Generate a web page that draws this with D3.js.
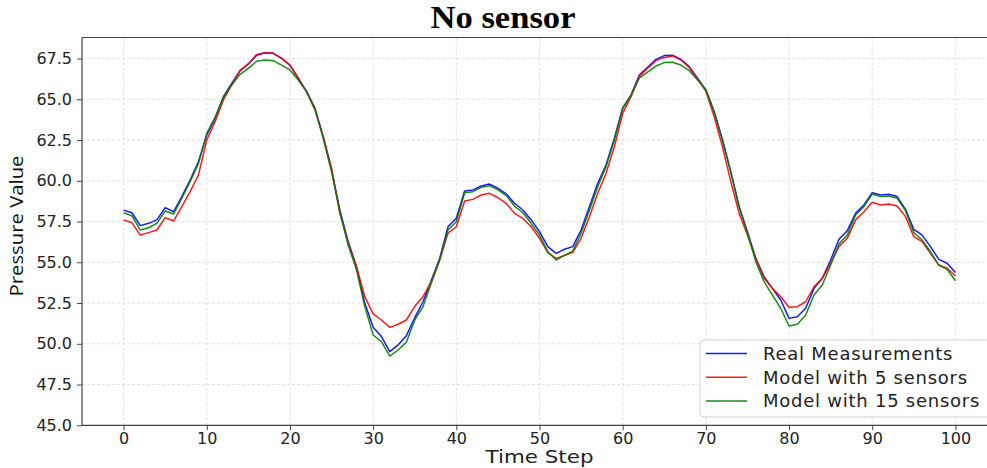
<!DOCTYPE html>
<html>
<head>
<meta charset="utf-8">
<script src="https://cdn.jsdelivr.net/npm/d3@7"></script>
<style>
  body { margin: 0; background: #ffffff; }
  svg { display: block; }
</style>
</head>
<body>
<div id="viz-container"></div>
<script>
let w = 987;
let h = 468;

///////////////////////////////////////////////////////////////////////////
// DATA (time steps 0..100)

let realMeasurements = [
  58.2, 58.04, 57.25, 57.39, 57.6, 58.35, 58.1, 59.03, 60.05, 61.17,
  62.81, 63.83, 65.16, 65.98, 66.76, 67.17, 67.7, 67.86, 67.82, 67.51,
  67.1, 66.29, 65.47, 64.45, 62.71, 60.66, 58.2, 56.27, 54.73, 52.48,
  51.01, 50.44, 49.52, 49.93, 50.5, 51.6, 52.58, 53.9, 55.24, 57.18,
  57.7, 59.37, 59.44, 59.68, 59.8, 59.54, 59.19, 58.62, 58.21, 57.6,
  56.88, 55.96, 55.55, 55.8, 55.96, 56.98, 58.41, 59.85, 60.97, 62.61,
  64.45, 65.26, 66.49, 66.96, 67.45, 67.68, 67.7, 67.45, 67.0, 66.29,
  65.57, 64.24, 62.5, 60.56, 58.41, 56.88, 55.24, 54.12, 53.4, 52.69,
  51.56, 51.66, 52.18, 53.4, 54.02, 55.14, 56.41, 56.94, 58.0, 58.52,
  59.27, 59.13, 59.17, 59.03, 58.25, 57.02, 56.67, 55.96, 55.18, 54.94,
  54.37
];

let model5 = [
  57.6, 57.43, 56.67, 56.82, 56.98, 57.74, 57.53, 58.41, 59.33, 60.36,
  62.5, 63.63, 64.96, 65.88, 66.76, 67.17, 67.75, 67.86, 67.82, 67.51,
  67.1, 66.29, 65.47, 64.34, 62.71, 60.77, 58.0, 56.17, 54.73, 52.89,
  51.83, 51.46, 51.01, 51.2, 51.46, 52.3, 52.89, 53.81, 55.14, 56.78,
  57.18, 58.76, 58.86, 59.13, 59.23, 58.96, 58.62, 58.0, 57.7, 57.18,
  56.47, 55.59, 55.24, 55.42, 55.61, 56.47, 57.8, 59.23, 60.46, 62.09,
  64.14, 65.16, 66.39, 66.9, 67.37, 67.57, 67.66, 67.41, 66.95, 66.25,
  65.5, 63.93, 62.09, 59.95, 58.0, 56.67, 55.24, 54.02, 53.4, 52.89,
  52.24, 52.28, 52.58, 53.5, 54.02, 54.94, 55.96, 56.47, 57.6, 58.1,
  58.68, 58.52, 58.58, 58.45, 57.8, 56.57, 56.27, 55.55, 54.83, 54.63,
  54.16
];

let model15 = [
  58.04, 57.86, 56.98, 57.12, 57.39, 58.15, 57.96, 58.93, 59.95, 61.07,
  62.91, 63.9, 65.12, 65.88, 66.53, 66.9, 67.33, 67.41, 67.37, 67.1,
  66.8, 66.18, 65.47, 64.45, 62.6, 60.56, 58.1, 56.06, 54.53, 52.28,
  50.54, 50.13, 49.25, 49.62, 50.1, 51.46, 52.28, 53.75, 55.14, 56.98,
  57.49, 59.27, 59.33, 59.6, 59.7, 59.44, 59.09, 58.45, 58.04, 57.39,
  56.67, 55.65, 55.14, 55.42, 55.69, 56.78, 58.2, 59.64, 60.87, 62.5,
  64.45, 65.26, 66.29, 66.66, 67.04, 67.25, 67.27, 67.1, 66.76, 66.18,
  65.6, 64.24, 62.5, 60.5, 58.41, 56.8, 55.04, 53.81, 52.99, 52.18,
  51.09, 51.2, 51.77, 52.99, 53.61, 54.83, 56.12, 56.67, 57.9, 58.41,
  59.19, 59.03, 59.07, 58.93, 58.17, 56.82, 56.37, 55.65, 54.83, 54.57,
  53.87
];

let seriesNames = ["Real Measurements", "Model with 5 sensors", "Model with 15 sensors"];
let seriesColors = ["#0000ff", "#ff0000", "#008000"];

let xTicks = [0, 10, 20, 30, 40, 50, 60, 70, 80, 90, 100];
let yTicks = [45.0, 47.5, 50.0, 52.5, 55.0, 57.5, 60.0, 62.5, 65.0, 67.5];

///////////////////////////////////////////////////////////////////////////
// SVG + scales

let viz = d3.select("#viz-container")
              .append("svg")
                .attr("width", w)
                .attr("height", h)
;

let plotLeft = 82;
let plotRight = 997;   // the figure is cut off on the right side
let plotTop = 37.5;
let plotBottom = 425.3;

let xScale = d3.scaleLinear().domain([-5, 105]).range([plotLeft, plotRight]);
let yScale = d3.scaleLinear().domain([45, 68.79]).range([plotBottom, plotTop]);

///////////////////////////////////////////////////////////////////////////
// GRID

let grid = viz.append("g").attr("class", "grid");

grid.selectAll(".vgrid").data(xTicks)
    .enter()
      .append("line")
      .attr("x1", d => xScale(d))
      .attr("x2", d => xScale(d))
      .attr("y1", plotTop)
      .attr("y2", plotBottom)
      .attr("stroke", "#d9d9d9")
      .attr("stroke-width", 0.8)
      .attr("stroke-dasharray", "3,2")
;

grid.selectAll(".hgrid").data(yTicks)
    .enter()
      .append("line")
      .attr("x1", plotLeft)
      .attr("x2", plotRight)
      .attr("y1", d => yScale(d))
      .attr("y2", d => yScale(d))
      .attr("stroke", "#d9d9d9")
      .attr("stroke-width", 0.8)
      .attr("stroke-dasharray", "3,2")
;

///////////////////////////////////////////////////////////////////////////
// LINES

let allSeries = [realMeasurements, model5, model15];

let lineMaker = d3.line()
                  .x((d, i) => xScale(i))
                  .y(d => yScale(d))
;

viz.append("g").attr("class", "lines")
    .selectAll("path").data(allSeries)
    .enter()
      .append("path")
      .attr("d", lineMaker)
      .attr("fill", "none")
      .attr("stroke", (d, i) => seriesColors[i])
      .attr("stroke-width", 1.5)
      .attr("stroke-opacity", 0.9)
      .attr("stroke-linejoin", "round")
;

///////////////////////////////////////////////////////////////////////////
// AXES

let xAxis = d3.axisBottom(xScale).tickValues(xTicks).tickSize(5).tickPadding(2.5).tickFormat(d3.format("d"));
let yAxis = d3.axisLeft(yScale).tickValues(yTicks).tickSize(5).tickPadding(5).tickFormat(d3.format(".1f"));

let xAxisGroup = viz.append("g")
    .attr("transform", "translate(0," + plotBottom + ")")
    .call(xAxis);

let yAxisGroup = viz.append("g")
    .attr("transform", "translate(" + plotLeft + ",0)")
    .call(yAxis);

[xAxisGroup, yAxisGroup].forEach(function(g){
  g.select(".domain").remove();
  g.selectAll("line").attr("stroke", "#444").attr("stroke-width", 1);
  g.selectAll("text")
    .attr("fill", "#222")
    .style("font-family", "DejaVu Sans, sans-serif")
    .style("font-size", "16px");
});

// spines: left, top, bottom (right one is outside the picture)
viz.append("line").attr("x1", plotLeft).attr("x2", plotLeft).attr("y1", plotTop).attr("y2", plotBottom)
    .attr("stroke", "#444").attr("stroke-width", 1.2);
viz.append("line").attr("x1", plotLeft).attr("x2", plotRight).attr("y1", plotTop).attr("y2", plotTop)
    .attr("stroke", "#444").attr("stroke-width", 1.2);
viz.append("line").attr("x1", plotLeft).attr("x2", plotRight).attr("y1", plotBottom).attr("y2", plotBottom)
    .attr("stroke", "#444").attr("stroke-width", 1.2);

///////////////////////////////////////////////////////////////////////////
// TITLE + LABELS

viz.append("text")
    .attr("x", 503)
    .attr("y", 28)
    .attr("text-anchor", "middle")
    .style("font-family", "Liberation Serif, serif")
    .style("font-weight", "bold")
    .style("font-size", "31px")
    .attr("textLength", 145)
    .attr("lengthAdjust", "spacingAndGlyphs")
    .text("No sensor");

viz.append("text")
    .attr("x", xScale(50))
    .attr("y", 463)
    .attr("text-anchor", "middle")
    .attr("fill", "#222")
    .style("font-family", "DejaVu Sans, sans-serif")
    .style("font-size", "17px")
    .attr("textLength", 108)
    .attr("lengthAdjust", "spacingAndGlyphs")
    .text("Time Step");

viz.append("text")
    .attr("transform", "translate(23," + 226 + ") rotate(-90)")
    .attr("text-anchor", "middle")
    .attr("fill", "#111")
    .style("font-family", "Open Sans, sans-serif")
    .style("font-size", "19px")
    .attr("textLength", 141)
    .attr("lengthAdjust", "spacingAndGlyphs")
    .text("Pressure Value");

///////////////////////////////////////////////////////////////////////////
// LEGEND

let legend = viz.append("g").attr("class", "legend");

legend.append("rect")
    .attr("x", 700)
    .attr("y", 340)
    .attr("width", 300)
    .attr("height", 77)
    .attr("rx", 4)
    .attr("fill", "#ffffff")
    .attr("fill-opacity", 0.85)
    .attr("stroke", "#d0d0d0")
    .attr("stroke-width", 1);

let legendItems = legend.selectAll(".item").data(seriesNames)
    .enter()
      .append("g")
      .attr("class", "item")
      .attr("transform", (d, i) => "translate(706," + (353.5 + i * 23.7) + ")");

legendItems.append("line")
    .attr("x1", 0)
    .attr("x2", 41)
    .attr("y1", 0)
    .attr("y2", 0)
    .attr("stroke", (d, i) => seriesColors[i])
    .attr("stroke-width", 1.5)
    .attr("stroke-opacity", 0.9);

legendItems.append("text")
    .attr("x", 57)
    .attr("y", 6.5)
    .attr("fill", "#222")
    .style("font-family", "DejaVu Sans, sans-serif")
    .style("font-size", "18px")
    .style("letter-spacing", "0.75px")
    .text(d => d);

</script>
</body>
</html>
